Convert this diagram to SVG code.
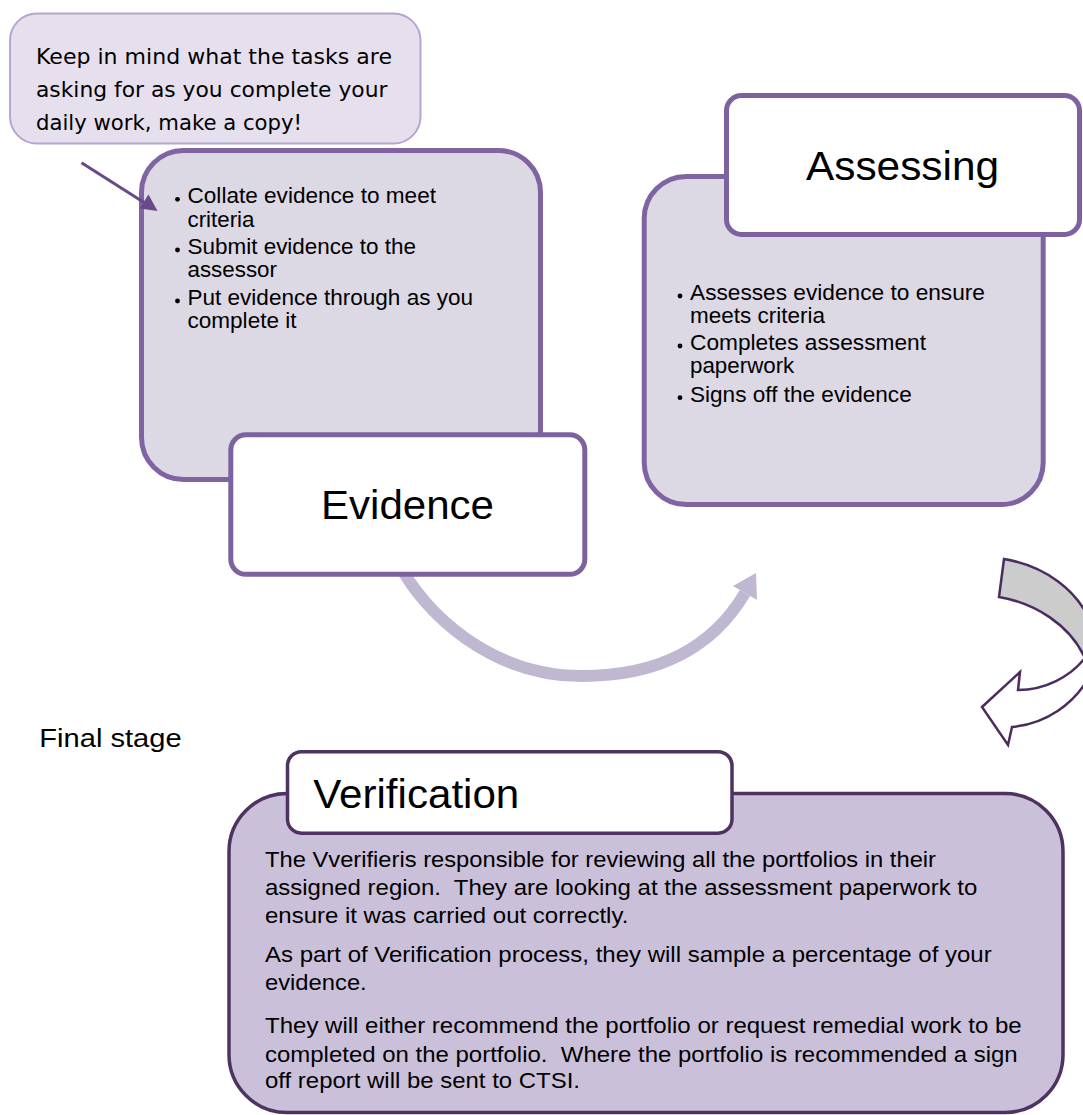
<svg xmlns="http://www.w3.org/2000/svg" width="1083" height="1115" viewBox="0 0 1083 1115">
<style>
.sans{font-family:"Liberation Sans",Arial,sans-serif;fill:#000}
.hand{font-family:"DejaVu Sans",sans-serif;font-size:22px;fill:#000}
.body{fill:#dcd8e4;stroke:#8064a2;stroke-width:5}
.title{fill:#fff;stroke:#7d62a0;stroke-width:5}
.bul{font-size:21.5px}
.ttl{font-size:41.5px}
.vt{font-size:22px;white-space:pre}
.dot{fill:#000}
</style>
<rect width="1083" height="1115" fill="#fff"/>

<g id="callout">
<rect x="10" y="13.5" width="410.5" height="130" rx="27" fill="#e6e0ee" stroke="#b5a6cd" stroke-width="2"/>
<text class="hand" x="36" y="64" textLength="356" lengthAdjust="spacingAndGlyphs">Keep in mind what the tasks are</text>
<text class="hand" x="36" y="96.7" textLength="351.5" lengthAdjust="spacingAndGlyphs">asking for as you complete your</text>
<text class="hand" x="36" y="130" textLength="266" lengthAdjust="spacingAndGlyphs">daily work, make a copy!</text>
</g>

<g id="evidence-body">
<rect class="body" x="141.5" y="150.5" width="399" height="329" rx="42"/>
<circle class="dot" cx="177.5" cy="199.3" r="2.4"/>
<text class="sans bul" x="187.5" y="203.3" textLength="248.5" lengthAdjust="spacingAndGlyphs">Collate evidence to meet</text>
<text class="sans bul" x="187.5" y="226.5" textLength="67" lengthAdjust="spacingAndGlyphs">criteria</text>
<circle class="dot" cx="177.5" cy="250" r="2.4"/>
<text class="sans bul" x="187.5" y="254" textLength="228.5" lengthAdjust="spacingAndGlyphs">Submit evidence to the</text>
<text class="sans bul" x="187.5" y="277" textLength="89.5" lengthAdjust="spacingAndGlyphs">assessor</text>
<circle class="dot" cx="177.5" cy="301" r="2.4"/>
<text class="sans bul" x="187.5" y="305" textLength="285.5" lengthAdjust="spacingAndGlyphs">Put evidence through as you</text>
<text class="sans bul" x="187.5" y="328" textLength="109" lengthAdjust="spacingAndGlyphs">complete it</text>
</g>

<g id="assessing-body">
<rect class="body" x="644.2" y="176.5" width="399" height="328" rx="42"/>
<circle class="dot" cx="680" cy="296" r="2.4"/>
<text class="sans bul" x="690" y="300" textLength="295" lengthAdjust="spacingAndGlyphs">Assesses evidence to ensure</text>
<text class="sans bul" x="690" y="322.5" textLength="135" lengthAdjust="spacingAndGlyphs">meets criteria</text>
<circle class="dot" cx="680" cy="346" r="2.4"/>
<text class="sans bul" x="690" y="350" textLength="236" lengthAdjust="spacingAndGlyphs">Completes assessment</text>
<text class="sans bul" x="690" y="373" textLength="104.3" lengthAdjust="spacingAndGlyphs">paperwork</text>
<circle class="dot" cx="680" cy="397.7" r="2.4"/>
<text class="sans bul" x="690" y="401.7" textLength="221.7" lengthAdjust="spacingAndGlyphs">Signs off the evidence</text>
</g>

<g id="connectors">
<path d="M398,562 C425,615 492,676 582,676 C662,676 714.4,644.6 745,593" fill="none" stroke="#c0b8d1" stroke-width="12"/>
<polygon points="756,573 733,586 757,600" fill="#c0b8d1"/>
<line x1="81.5" y1="162.7" x2="146" y2="203.7" stroke="#684a8a" stroke-width="3"/>
<polygon points="157.5,211 139.5,208.5 148.5,194.5" fill="#684a8a"/>
<path d="M1004,559 C1045,566 1078,590 1092,625 L1092,664 L1085,658 C1070,625 1035,603 999,597 Z" fill="#cccccc" stroke="#4b2c5f" stroke-width="2.5" stroke-linejoin="miter"/>
<path d="M1085,658 C1070,677 1045,690 1018,690 L1020,672 L982,707 L1008,745 L1012,727 C1045,724 1075,705 1092,672" fill="#fff" stroke="#4b2c5f" stroke-width="2.5" stroke-linejoin="miter"/>
</g>

<g id="evidence-title">
<rect class="title" x="230.8" y="434.8" width="354" height="139.5" rx="15"/>
<text class="sans ttl" x="407.5" y="519" text-anchor="middle" textLength="173" lengthAdjust="spacingAndGlyphs">Evidence</text>
</g>

<g id="assessing-title">
<rect class="title" x="726.5" y="95.5" width="353" height="139" rx="15"/>
<text class="sans ttl" x="902.5" y="180" text-anchor="middle" textLength="193" lengthAdjust="spacingAndGlyphs">Assessing</text>
</g>

<g id="final-stage">
<text class="sans" font-size="26" x="39.3" y="746.7" textLength="142.4" lengthAdjust="spacingAndGlyphs">Final stage</text>
</g>

<g id="verification">
<rect x="229" y="793.5" width="834" height="319" rx="58" fill="#cbc0da" stroke="#4e3362" stroke-width="3.5"/>
<text class="sans vt" x="265" y="867.3" textLength="671" lengthAdjust="spacingAndGlyphs">The Vverifieris responsible for reviewing all the portfolios in their</text>
<text class="sans vt" x="265" y="895" textLength="712.3" lengthAdjust="spacingAndGlyphs">assigned region.  They are looking at the assessment paperwork to</text>
<text class="sans vt" x="265" y="923.3" textLength="363.3" lengthAdjust="spacingAndGlyphs">ensure it was carried out correctly.</text>
<text class="sans vt" x="265" y="961.7" textLength="726.7" lengthAdjust="spacingAndGlyphs">As part of Verification process, they will sample a percentage of your</text>
<text class="sans vt" x="265" y="990" textLength="101.7" lengthAdjust="spacingAndGlyphs">evidence.</text>
<text class="sans vt" x="265" y="1033.3" textLength="756.7" lengthAdjust="spacingAndGlyphs">They will either recommend the portfolio or request remedial work to be</text>
<text class="sans vt" x="265" y="1061.7" textLength="752.7" lengthAdjust="spacingAndGlyphs">completed on the portfolio.  Where the portfolio is recommended a sign</text>
<text class="sans vt" x="265" y="1088.3" textLength="315" lengthAdjust="spacingAndGlyphs">off report will be sent to CTSI.</text>
</g>

<g id="verification-title">
<rect x="287.5" y="751.7" width="444.5" height="81.5" rx="14" fill="#fff" stroke="#4e3362" stroke-width="3.5"/>
<text class="sans" font-size="40" x="313.3" y="808.3" textLength="206" lengthAdjust="spacingAndGlyphs">Verification</text>
</g>
</svg>
